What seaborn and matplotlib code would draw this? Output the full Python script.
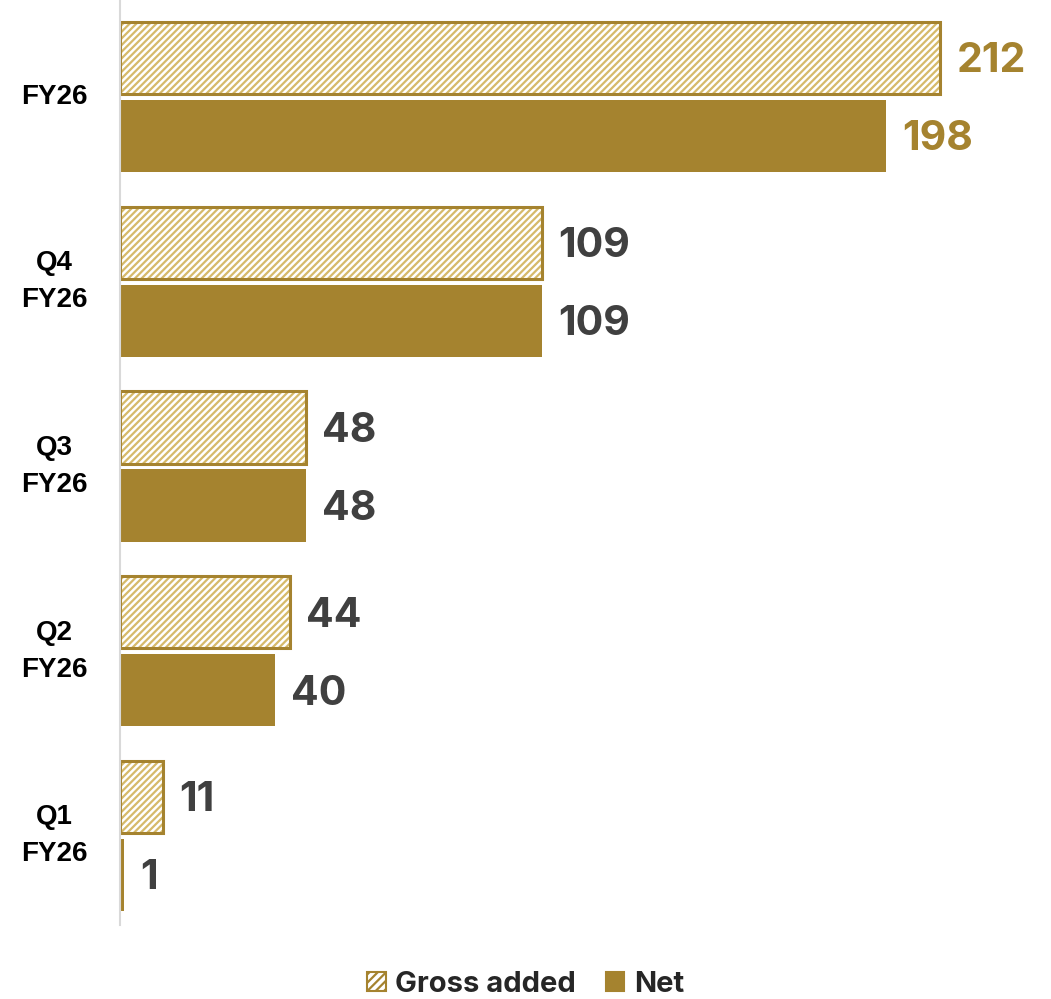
import matplotlib
matplotlib.use("Agg")
import matplotlib.pyplot as plt
import matplotlib.patches as mpatches
import seaborn as sns
import pandas as pd

# Periods shown top to bottom
periods = ["FY26", "Q4\nFY26", "Q3\nFY26", "Q2\nFY26", "Q1\nFY26"]
gross_added = [212, 109, 48, 44, 11]
net = [198, 109, 48, 40, 1]
series = ["Gross added", "Net"]

GOLD = "#A5832F"
HATCH = "#D6BA6A"
GREY = "#404040"

sns.set_theme(style="white")
plt.rcParams["font.family"] = ["Inter", "DejaVu Sans"]
plt.rcParams["hatch.linewidth"] = 1.6

df = pd.DataFrame({
    "period": periods * 2,
    "value": gross_added + net,
    "series": [series[0]] * len(periods) + [series[1]] * len(periods),
})

fig = plt.figure(figsize=(10.51, 9.99), dpi=100)
ax = fig.add_axes([120 / 1051, 1 - 925 / 999, 920 / 1051, 925 / 999])

sns.barplot(data=df, y="period", x="value", hue="series", order=periods,
            hue_order=series, orient="h", palette=[GOLD, GOLD], saturation=1,
            width=0.845, gap=0.075, ax=ax, legend=False, linewidth=0)

n = len(periods)
gross_patches = ax.patches[:n]
net_patches = ax.patches[n:2 * n]

for p in gross_patches:
    p.set_facecolor("white")
    p.set_edgecolor(HATCH)
    p.set_hatch("/////")
    p.set_linewidth(0)
    outline = mpatches.Rectangle(p.get_xy(), p.get_width(), p.get_height(),
                                 fill=False, edgecolor=GOLD, linewidth=2.2,
                                 zorder=p.get_zorder() + 0.1)
    ax.add_patch(outline)

# Value labels at the end of each bar
label_dy = 0.018
for i, (p, v) in enumerate(zip(gross_patches, gross_added)):
    color = GOLD if i == 0 else GREY
    ax.text(v + 4.2, p.get_y() + p.get_height() / 2 + label_dy, f"{v}",
            va="center", ha="left", fontsize=29.5, fontweight="bold",
            color=color)
for i, (p, v) in enumerate(zip(net_patches, net)):
    color = GOLD if i == 0 else GREY
    ax.text(v + 4.2, p.get_y() + p.get_height() / 2 + label_dy, f"{v}",
            va="center", ha="left", fontsize=29.5, fontweight="bold",
            color=color)

ax.set_xlim(0, 920 / 3.868)
ax.set_ylim(4.482, -0.525)
ax.set_xlabel("")
ax.set_ylabel("")
ax.set_xticks([])
ax.set_yticks(range(n))
ax.set_yticklabels(periods, fontsize=20, fontweight="bold", color="black",
                   ha="center", va="center", linespacing=1.55,
                   fontfamily=["Liberation Sans", "DejaVu Sans"])
ax.tick_params(axis="y", length=0, pad=47)

for side in ["top", "right", "bottom"]:
    ax.spines[side].set_visible(False)
ax.spines["left"].set_color("#D9D9D9")
ax.spines["left"].set_linewidth(1.5)

# Legend
h_gross = mpatches.Patch(facecolor="white", edgecolor=HATCH, hatch="////",
                         linewidth=0)
h_net = mpatches.Patch(facecolor=GOLD, edgecolor=GOLD)
leg = fig.legend([h_gross, h_net], series, loc="center",
                 bbox_to_anchor=(526 / 1051, 1 - 984 / 999), ncol=2,
                 frameon=False, prop={"size": 21, "weight": "bold"},
                 handlelength=0.62, handleheight=0.62, handletextpad=0.34,
                 columnspacing=1.03)
for h in leg.legend_handles:
    h.set_edgecolor(GOLD)
    h.set_linewidth(1.5)
leg.legend_handles[0].set_facecolor("white")

fig.savefig("out.png", dpi=100)
